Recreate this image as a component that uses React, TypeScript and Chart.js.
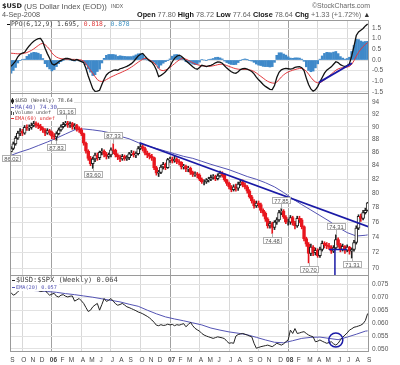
import React, { useEffect, useRef } from 'react';
import { Chart, registerables } from 'chart.js';

Chart.register(...registerables);

// ---------- data ----------
const FIRST_BAR_UTC = Date.UTC(2005, 8, 2); // first weekly bar (Fri 2 Sep 2005)
const WEEK_MS = 7 * 86400000;
const FIRST_OPEN = 86.1;

const CLOSE = [
  86.6, 87.3, 88.2, 89.0, 89.3, 89.0, 89.9, 89.8, 89.9, 90.2,
  90.5, 90.3, 90.1, 89.8, 89.5, 89.0, 89.4, 89.1, 88.5, 88.4,
  88.9, 89.5, 90.0, 90.4, 90.6, 90.3, 90.5, 90.0, 90.2, 89.7,
  89.5, 88.9, 87.4, 86.2, 85.1, 84.3, 85.0, 85.6, 85.2, 86.0,
  86.2, 85.7, 85.4, 85.6, 86.4, 86.3, 85.6, 85.3, 85.0, 85.4,
  85.1, 85.2, 85.8, 85.9, 85.6, 85.8, 86.6, 86.9, 86.6, 85.9,
  85.6, 85.4, 85.2, 83.7, 82.9, 83.0, 83.8, 84.2, 83.7, 84.9,
  85.0, 84.7, 85.0, 84.6, 84.5, 83.8, 83.9, 83.5, 83.6, 83.0,
  82.7, 82.8, 82.6, 82.0, 81.6, 81.6, 81.9, 82.0, 82.3, 82.4,
  82.1, 82.5, 82.9, 82.6, 81.9, 81.4, 80.9, 80.5, 80.9, 80.7,
  81.3, 81.6, 81.2, 80.9, 80.3, 79.5, 78.9, 78.2, 78.6, 78.4,
  77.6, 77.2, 76.4, 75.5, 75.8, 75.3, 76.0, 76.3, 77.3, 77.5,
  76.7, 76.0, 76.0, 76.6, 75.9, 75.5, 76.5, 76.3, 75.4, 73.8,
  73.1, 71.9, 72.7, 72.0, 72.3, 71.6, 72.4, 73.2, 73.0, 72.9,
  72.7, 72.2, 72.6, 73.7, 73.0, 72.4, 72.8, 72.3, 72.7, 72.2,
  72.4, 73.3, 75.2, 76.8, 76.5, 77.3, 77.6, 78.64,
];
const HIGH = [
  86.9, 87.6, 88.5, 89.3, 89.7, 89.6, 90.2, 90.3, 90.3, 90.6,
  90.9, 90.8, 90.6, 90.4, 90.0, 89.7, 89.7, 89.6, 89.3, 88.9,
  89.2, 89.8, 90.3, 90.7, 91.16, 90.9, 90.8, 90.7, 90.5, 90.4,
  90.0, 89.8, 89.0, 87.6, 86.4, 85.4, 85.3, 85.9, 85.9, 86.2,
  86.6, 86.4, 86.0, 85.9, 86.7, 87.33, 86.5, 85.8, 85.6, 85.7,
  85.6, 85.5, 86.0, 86.3, 86.2, 86.1, 86.9, 87.3, 87.1, 86.8,
  86.2, 85.9, 85.7, 85.3, 83.9, 83.3, 84.1, 84.5, 84.4, 85.1,
  85.3, 85.3, 85.4, 85.2, 84.9, 84.6, 84.2, 84.1, 83.9, 83.8,
  83.2, 83.1, 83.0, 82.8, 82.2, 81.9, 82.1, 82.3, 82.6, 82.7,
  82.6, 82.8, 83.2, 83.1, 82.8, 82.0, 81.6, 81.1, 81.2, 81.3,
  81.6, 82.0, 81.9, 81.5, 81.1, 80.5, 79.7, 79.1, 78.9, 78.9,
  78.6, 77.8, 77.4, 76.6, 76.1, 76.0, 76.2, 76.6, 77.6, 77.85,
  77.7, 76.9, 76.4, 76.9, 76.8, 76.1, 76.8, 76.8, 76.5, 75.5,
  74.0, 73.3, 73.1, 72.9, 72.6, 72.5, 72.7, 73.5, 73.4, 73.3,
  73.2, 72.9, 72.9, 74.31, 73.9, 73.2, 73.1, 72.9, 73.0, 72.8,
  72.6, 73.6, 75.5, 77.0, 77.1, 77.6, 77.9, 78.72,
];
const LOW = [
  86.02, 86.4, 87.1, 88.0, 88.6, 88.6, 88.8, 89.4, 89.4, 89.6,
  90.0, 89.9, 89.7, 89.4, 89.1, 88.6, 88.8, 88.7, 88.1, 88.0,
  87.83, 88.7, 89.3, 89.8, 90.1, 89.9, 89.9, 89.6, 89.6, 89.3,
  89.1, 88.6, 87.1, 85.9, 84.8, 84.0, 83.6, 84.6, 84.8, 84.9,
  85.6, 85.3, 85.0, 85.1, 85.3, 85.8, 85.3, 84.9, 84.6, 84.8,
  84.8, 84.8, 84.9, 85.5, 85.3, 85.2, 85.6, 86.4, 86.2, 85.6,
  85.2, 85.0, 84.8, 83.4, 82.6, 82.4, 82.8, 83.5, 83.4, 83.6,
  84.5, 84.4, 84.5, 84.3, 84.1, 83.5, 83.5, 83.1, 83.1, 82.7,
  82.4, 82.4, 82.2, 81.8, 81.4, 81.2, 81.4, 81.6, 81.8, 82.0,
  81.8, 81.9, 82.3, 82.3, 81.7, 81.1, 80.6, 80.2, 80.3, 80.3,
  80.4, 81.1, 80.9, 80.6, 80.0, 79.3, 78.6, 77.9, 78.0, 78.0,
  77.3, 76.8, 76.1, 75.2, 75.2, 74.48, 75.0, 75.7, 76.1, 77.0,
  76.5, 75.8, 75.6, 75.7, 75.6, 75.1, 75.3, 75.9, 75.1, 73.5,
  72.8, 70.7, 71.6, 71.6, 71.7, 71.4, 71.4, 72.2, 72.6, 72.5,
  72.4, 71.9, 72.0, 72.4, 72.7, 72.1, 72.2, 71.9, 72.1, 71.8,
  71.31, 72.2, 73.1, 75.0, 76.1, 76.3, 77.1, 77.5,
];
const PPO = [
  -0.30, -0.18, -0.05, 0.15, 0.27, 0.32, 0.36, 0.52, 0.66, 0.78,
  0.88, 0.95, 1.00, 1.01, 0.85, 0.55, 0.30, 0.08, -0.18, -0.23,
  -0.17, -0.08, -0.02, 0.03, 0.07, 0.08, 0.04, 0.00, -0.02, 0.02,
  -0.03, -0.08, -0.13, -0.40, -0.75, -1.05, -1.35, -1.47, -1.46, -1.42,
  -1.15, -0.90, -0.70, -0.60, -0.54, -0.49, -0.46, -0.48, -0.41, -0.38,
  -0.34, -0.30, -0.24, -0.17, -0.07, 0.06, 0.19, 0.27, 0.31, 0.18,
  0.06, -0.03, -0.10, -0.25, -0.47, -0.78, -0.72, -0.65, -0.55, -0.43,
  -0.30, -0.08, 0.08, 0.18, 0.23, 0.18, 0.08, -0.04, -0.13, -0.22,
  -0.32, -0.40, -0.43, -0.35, -0.25, -0.28, -0.31, -0.28, -0.25, -0.20,
  -0.13, -0.09, -0.10, -0.15, -0.27, -0.38, -0.47, -0.55, -0.60, -0.62,
  -0.55, -0.45, -0.41, -0.39, -0.43, -0.48, -0.54, -0.65, -0.80, -0.93,
  -1.03, -1.15, -1.24, -1.31, -1.38, -1.39, -1.20, -0.82, -0.58, -0.46,
  -0.42, -0.39, -0.41, -0.43, -0.40, -0.35, -0.32, -0.31, -0.36, -0.50,
  -0.85, -1.15, -1.36, -1.46, -1.40, -1.25, -1.02, -0.82, -0.62, -0.48,
  -0.40, -0.32, -0.20, -0.08, -0.12, -0.22, -0.27, -0.31, -0.26, -0.17,
  0.20, 0.65, 1.15, 1.32, 1.40, 1.48, 1.60, 1.695,
];
const SIGNAL = [
  0.32, 0.31, 0.30, 0.29, 0.29, 0.30, 0.32, 0.35, 0.40, 0.45,
  0.52, 0.60, 0.68, 0.75, 0.78, 0.72, 0.62, 0.50, 0.33, 0.22,
  0.14, 0.09, 0.06, 0.05, 0.04, 0.04, 0.04, 0.03, 0.03, 0.02,
  0.01, 0.00, -0.05, -0.18, -0.33, -0.48, -0.62, -0.78, -0.92, -0.99,
  -1.01, -0.98, -0.92, -0.86, -0.80, -0.75, -0.70, -0.65, -0.61, -0.56,
  -0.51, -0.46, -0.40, -0.33, -0.26, -0.18, -0.10, -0.03, 0.04, 0.08,
  0.06, 0.01, -0.06, -0.14, -0.26, -0.40, -0.48, -0.50, -0.47, -0.42,
  -0.35, -0.26, -0.17, -0.08, 0.00, 0.06, 0.07, 0.04, -0.01, -0.07,
  -0.13, -0.18, -0.22, -0.25, -0.27, -0.28, -0.29, -0.30, -0.29, -0.27,
  -0.25, -0.22, -0.20, -0.20, -0.22, -0.26, -0.30, -0.34, -0.38, -0.41,
  -0.43, -0.44, -0.44, -0.44, -0.44, -0.46, -0.49, -0.54, -0.61, -0.69,
  -0.77, -0.85, -0.93, -1.00, -1.05, -1.08, -1.09, -1.04, -0.92, -0.80,
  -0.70, -0.62, -0.56, -0.52, -0.48, -0.45, -0.42, -0.40, -0.40, -0.44,
  -0.53, -0.66, -0.81, -0.94, -1.03, -1.07, -1.06, -1.01, -0.93, -0.84,
  -0.75, -0.66, -0.57, -0.48, -0.42, -0.38, -0.36, -0.35, -0.33, -0.30,
  -0.20, -0.03, 0.18, 0.36, 0.51, 0.63, 0.73, 0.818,
];
const RATIO = [
  0.0718, 0.0708, 0.0712, 0.0722, 0.0728, 0.0735, 0.0742, 0.0746, 0.0742, 0.0738,
  0.0734, 0.0730, 0.0726, 0.0722, 0.0724, 0.0727, 0.0716, 0.0708, 0.0712, 0.0715,
  0.0704, 0.0701, 0.0708, 0.0710, 0.0704, 0.0701, 0.0704, 0.0705, 0.0685, 0.0690,
  0.0695, 0.0686, 0.0676, 0.0660, 0.0645, 0.0650, 0.0663, 0.0670, 0.0676, 0.0650,
  0.0672, 0.0695, 0.0684, 0.0688, 0.0695, 0.0685, 0.0675, 0.0669, 0.0672, 0.0676,
  0.0670, 0.0663, 0.0660, 0.0656, 0.0652, 0.0648, 0.0643, 0.0640, 0.0636, 0.0631,
  0.0626, 0.0620, 0.0612, 0.0603, 0.0592, 0.0590, 0.0594, 0.0591, 0.0592, 0.0596,
  0.0593, 0.0595, 0.0590, 0.0594, 0.0592, 0.0595, 0.0598, 0.0586, 0.0594, 0.0603,
  0.0590, 0.0580, 0.0574, 0.0569, 0.0560, 0.0554, 0.0550, 0.0547, 0.0544, 0.0541,
  0.0544, 0.0547, 0.0545, 0.0543, 0.0540, 0.0530, 0.0522, 0.0524, 0.0522, 0.0550,
  0.0556, 0.0558, 0.0560, 0.0557, 0.0554, 0.0550, 0.0547, 0.0522, 0.0503, 0.0506,
  0.0509, 0.0511, 0.0513, 0.0515, 0.0512, 0.0509, 0.0515, 0.0522, 0.0519, 0.0515,
  0.0520, 0.0528, 0.0535, 0.0573, 0.0560, 0.0579, 0.0560, 0.0562, 0.0565, 0.0567,
  0.0560, 0.0554, 0.0550, 0.0547, 0.0528, 0.0530, 0.0535, 0.0530, 0.0526, 0.0522,
  0.0525, 0.0528, 0.0520, 0.0515, 0.0522, 0.0535, 0.0545, 0.0554, 0.0562, 0.0573,
  0.0578, 0.0584, 0.0586, 0.0589, 0.0592, 0.0598, 0.0610, 0.0637,
];
const AVG_BARS = [
  0, 4, 8, 12, 16, 20, 24, 28, 32, 36, 40, 44, 48, 52, 56, 60, 64, 68, 72, 76,
  80, 84, 88, 92, 96, 100, 104, 108, 112, 116, 120, 124, 128, 132, 136, 140, 144, 148, 152, 156, 157,
];
const MA40 = [
  85.55, 86.06, 86.5, 87.05, 87.6, 88.2, 88.85, 89.5, 89.65, 89.5,
  89.3, 89.0, 88.5, 88.1, 87.5, 87.0, 86.6, 86.2, 85.8, 85.4,
  85.1, 84.65, 84.2, 83.8, 83.4, 82.9, 82.4, 82.0, 81.5, 80.9,
  80.1, 79.2, 78.4, 77.65, 76.9, 76.15, 75.3, 74.6, 74.15, 74.25, 74.30,
];
const EMA20 = [
  0.0727, 0.0727, 0.0727, 0.0725, 0.0722, 0.0719, 0.0714, 0.0710, 0.0705, 0.0700,
  0.0694, 0.0688, 0.0682, 0.0673, 0.0665, 0.0650, 0.0636, 0.0624, 0.0616, 0.0609,
  0.0601, 0.0593, 0.0581, 0.0573, 0.0566, 0.0561, 0.0555, 0.0545, 0.0535, 0.0526,
  0.0524, 0.0532, 0.0541, 0.0545, 0.0546, 0.0541, 0.0536, 0.0546, 0.0557, 0.0569, 0.0570,
];
const PPO_TICKS = [-1.5, -1.0, -0.5, 0, 0.5, 1.0, 1.5];
const PRICE_TICKS = [70, 72, 74, 76, 78, 80, 82, 84, 86, 88, 90, 92, 94];
const RATIO_TICKS = [0.05, 0.055, 0.06, 0.065, 0.07, 0.075];
const LABEL_BARS = [0, 20, 24, 36, 45, 115, 119, 131, 143, 150];
const LABEL_KIND = ['L', 'L', 'H', 'L', 'H', 'L', 'H', 'L', 'H', 'L'];
const PRICE_TREND_BARS = [56.6, 157.6];
const PRICE_TREND_VALUES = [87.48, 75.35];
const PPO_TREND_BARS = [135.6, 150.1];
const PPO_TREND_VALUES = [-1.05, -0.15];
const BASE_BARS = [140, 147.9];
const BASE_VALUES = [72.4, 72.4];
const DROP_BARS = [142.6, 142.6];
const DROP_VALUES = [72.4, 62.4];
const CIRCLE_BARS = [143.0];
const CIRCLE_VALUES = [0.05348];

const MONTH_LETTERS = ['J', 'F', 'M', 'A', 'M', 'J', 'J', 'A', 'S', 'O', 'N', 'D'];
const MONTH_TICKS: { bar: number; month: number; year: number }[] = [];
{
  let prev = -1;
  for (let i = 0; i < CLOSE.length; i++) {
    const d = new Date(FIRST_BAR_UTC + i * WEEK_MS);
    const m = d.getUTCMonth();
    if (m !== prev) {
      MONTH_TICKS.push({ bar: i, month: m, year: d.getUTCFullYear() });
      prev = m;
    }
  }
}

// ---------- helpers ----------
type Seg = [string, string, boolean?];
function drawFitted(ctx: CanvasRenderingContext2D, segs: Seg[], x: number, y: number, width: number, family: string) {
  let w10 = 0;
  for (const [t, , b] of segs) {
    ctx.font = `${b ? 'bold ' : ''}10px ${family}`;
    w10 += ctx.measureText(t).width;
  }
  const size = (10 * width) / w10;
  let cx = x;
  ctx.textBaseline = 'middle';
  ctx.textAlign = 'left';
  for (const [t, c, b] of segs) {
    ctx.font = `${b ? 'bold ' : ''}${size}px ${family}`;
    ctx.fillStyle = c;
    ctx.fillText(t, cx, y);
    cx += ctx.measureText(t).width;
  }
}

const MONO = '"DejaVu Sans Mono", monospace';
const SANS = '"Liberation Sans", Arial, sans-serif';
const VERD = '"DejaVu Sans", Verdana, sans-serif';

const overlay = {
  id: 'overlay',
  beforeDraw(chart: any) {
    const ctx = chart.ctx;
    ctx.save();
    ctx.fillStyle = '#ffffff';
    ctx.fillRect(0, 0, chart.width, chart.height);
    ctx.restore();
  },
  afterDraw(chart: any) {
    const ctx: CanvasRenderingContext2D = chart.ctx;
    const a = chart.chartArea;
    const sx = chart.scales.x;
    const sp = chart.scales.yP;
    const spr = chart.scales.yPrice;
    ctx.save();

    // PPO legend
    ctx.fillStyle = '#111';
    ctx.fillRect(7, 24, 3, 1);
    drawFitted(ctx, [['PPO(6,12,9) 1.695, ', '#444'], ['0.818', '#e03a3a'], [', ', '#444'], ['0.878', '#3b8fbf']], 11, 24.8, 119, MONO);

    // price legend
    ctx.fillStyle = '#ffffff';
    ctx.fillRect(11, 97, 63, 24);
    ctx.fillStyle = '#222';
    ctx.fillRect(12, 98, 1, 6);
    ctx.fillRect(11, 99.5, 3, 3);
    drawFitted(ctx, [['$USD (Weekly) 78.64', '#444']], 15, 101, 58, MONO);
    ctx.fillStyle = '#5454b4';
    ctx.fillRect(11, 107, 3, 1);
    drawFitted(ctx, [['MA(40) 74.30', '#5454b4']], 15, 107.5, 42, MONO);
    ctx.fillStyle = '#555';
    ctx.fillRect(11, 111, 1, 4);
    ctx.fillRect(13, 112, 1, 3);
    drawFitted(ctx, [['Volume undef', '#555']], 15, 113, 36, MONO);
    ctx.fillStyle = '#e03030';
    ctx.fillRect(11, 118, 3, 1);
    drawFitted(ctx, [['EMA(60) undef', '#e03030']], 15, 118.5, 40, MONO);

    // ratio legend
    ctx.fillStyle = '#ffffff';
    ctx.fillRect(11, 277, 108, 7);
    ctx.fillRect(11, 284, 48, 7);
    ctx.fillStyle = '#222';
    ctx.fillRect(12, 280, 3, 1);
    drawFitted(ctx, [['$USD:$SPX (Weekly) 0.064', '#444']], 16, 280.5, 102, MONO);
    ctx.fillStyle = '#5454b4';
    ctx.fillRect(12, 287, 3, 1);
    drawFitted(ctx, [['EMA(20) 0.057', '#5454b4']], 16, 287.5, 41, MONO);

    // price extreme labels
    LABEL_BARS.forEach((b, k) => {
      const hi = LABEL_KIND[k] === 'H';
      const v = hi ? HIGH[b] : LOW[b];
      const txt = v.toFixed(2);
      const px = Math.round(sx.getPixelForValue(b)) + 0.5;
      const py = spr.getPixelForValue(v);
      ctx.font = `5.8px ${SANS}`;
      const bw = Math.round(ctx.measureText(txt).width + 4);
      const bh = 7;
      const by = Math.round(hi ? py - 5 - bh : py + 3);
      ctx.strokeStyle = '#b0b0b0';
      ctx.lineWidth = 1;
      ctx.beginPath();
      ctx.moveTo(px, py);
      ctx.lineTo(px, hi ? by + bh : by);
      ctx.stroke();
      const bx = Math.round(px - bw / 2);
      ctx.fillStyle = '#ffffff';
      ctx.fillRect(bx, by, bw, bh);
      ctx.strokeRect(bx + 0.5, by + 0.5, bw - 1, bh - 1);
      ctx.fillStyle = '#555555';
      ctx.textAlign = 'center';
      ctx.textBaseline = 'middle';
      ctx.fillText(txt, bx + bw / 2, by + bh / 2 + 0.5);
    });

    // panel frames
    ctx.strokeStyle = '#9a9a9a';
    ctx.lineWidth = 1;
    ctx.strokeRect(a.left + 0.5, a.top + 0.5, a.right - a.left - 1, a.bottom - a.top - 1);
    ctx.beginPath();
    ctx.moveTo(a.left, Math.round(sp.bottom) + 0.5);
    ctx.lineTo(a.right, Math.round(sp.bottom) + 0.5);
    ctx.moveTo(a.left, Math.round(spr.bottom) + 0.5);
    ctx.lineTo(a.right, Math.round(spr.bottom) + 0.5);
    ctx.stroke();

    // header
    drawFitted(ctx, [['$USD', '#222', true]], 2, 6.5, 20, VERD);
    drawFitted(ctx, [['(US Dollar Index (EOD))', '#555']], 24, 6.5, 83, SANS);
    drawFitted(ctx, [['INDX', '#555']], 111, 6.5, 12, SANS);
    drawFitted(ctx, [['\u00A9StockCharts.com', '#666']], 312, 6, 58, SANS);
    drawFitted(ctx, [['4-Sep-2008', '#555']], 2, 15, 38, SANS);
    drawFitted(ctx, [
      ['Open ', '#111', true], ['77.80 ', '#666'],
      ['High ', '#111', true], ['78.72 ', '#666'],
      ['Low ', '#111', true], ['77.64 ', '#666'],
      ['Close ', '#111', true], ['78.64 ', '#666'],
      ['Chg ', '#111', true], ['+1.33 (+1.72%) ', '#666'], ['\u25B2', '#333'],
    ], 137, 15, 234, SANS);

    ctx.restore();
  },
};

export default function App() {
  const ref = useRef<HTMLCanvasElement>(null);
  useEffect(() => {
    const bars = CLOSE.map((_, i) => i);
    const open = CLOSE.map((_, i) => (i === 0 ? FIRST_OPEN : CLOSE[i - 1]));
    const up = CLOSE.map((c, i) => c >= open[i]);
    const RED = '#e8161e';
    const tickFont = { family: SANS, size: 6.5 };
    const yCommon = (weight: number) => ({
      position: 'right' as const,
      stack: 'panels',
      stackWeight: weight,
      border: { display: false },
      grid: { color: '#e2e2e2', drawTicks: false, lineWidth: 1 },
      afterFit: (s: any) => { s.width = 31; },
    });

    const chart = new Chart(ref.current as HTMLCanvasElement, {
      type: 'line',
      data: {
        datasets: [
          {
            type: 'bar', yAxisID: 'yP', grouped: false, barThickness: 2, order: 6,
            data: bars.map((i) => ({ x: i, y: PPO[i] - SIGNAL[i] })),
            backgroundColor: '#3f89c9', borderWidth: 0,
          } as any,
          {
            type: 'line', yAxisID: 'yP', order: 2, borderColor: '#111', borderWidth: 1.3, pointRadius: 0, tension: 0,
            data: bars.map((i) => ({ x: i, y: PPO[i] })),
          },
          {
            type: 'line', yAxisID: 'yP', order: 3, borderColor: '#e2393e', borderWidth: 1, pointRadius: 0, tension: 0,
            data: bars.map((i) => ({ x: i, y: SIGNAL[i] })),
          },
          {
            type: 'line', yAxisID: 'yP', order: 1, borderColor: '#1a1aa6', borderWidth: 1.8, pointRadius: 0,
            data: PPO_TREND_BARS.map((b, k) => ({ x: b, y: PPO_TREND_VALUES[k] })),
          },
          {
            type: 'bar', yAxisID: 'yPrice', grouped: false, barThickness: 1, order: 4,
            data: bars.map((i) => ({ x: i, y: [LOW[i], HIGH[i]] })),
            backgroundColor: up.map((u) => (u ? '#222' : RED)), borderWidth: 0,
          } as any,
          {
            type: 'bar', yAxisID: 'yPrice', grouped: false, barThickness: 3, order: 3,
            data: bars.map((i) => ({ x: i, y: [Math.min(open[i], CLOSE[i]), Math.max(open[i], CLOSE[i])] })),
            backgroundColor: up.map((u) => (u ? '#ffffff' : RED)),
            borderColor: up.map((u) => (u ? '#222' : RED)),
            borderWidth: 1, borderSkipped: false,
          } as any,
          {
            type: 'line', yAxisID: 'yPrice', order: 5, borderColor: '#5454b4', borderWidth: 1, pointRadius: 0, tension: 0,
            data: AVG_BARS.map((b, k) => ({ x: b, y: MA40[k] })),
          },
          {
            type: 'line', yAxisID: 'yPrice', order: 1, borderColor: '#1a1aa6', borderWidth: 1.8, pointRadius: 0,
            data: PRICE_TREND_BARS.map((b, k) => ({ x: b, y: PRICE_TREND_VALUES[k] })),
          },
          {
            type: 'line', yAxisID: 'yPrice', order: 1, borderColor: '#1a1aa6', borderWidth: 1.5, pointRadius: 0,
            data: BASE_BARS.map((b, k) => ({ x: b, y: BASE_VALUES[k] })),
          },
          {
            type: 'line', yAxisID: 'yPrice', order: 1, borderColor: '#1a1aa6', borderWidth: 1.5, pointRadius: 0,
            data: DROP_BARS.map((b, k) => ({ x: b, y: DROP_VALUES[k] })),
          },
          {
            type: 'line', yAxisID: 'yR', order: 3, borderColor: '#222', borderWidth: 1, pointRadius: 0, tension: 0,
            data: bars.map((i) => ({ x: i, y: RATIO[i] })),
          },
          {
            type: 'line', yAxisID: 'yR', order: 4, borderColor: '#5454b4', borderWidth: 1, pointRadius: 0, tension: 0,
            data: AVG_BARS.map((b, k) => ({ x: b, y: EMA20[k] })),
          },
          {
            type: 'line', yAxisID: 'yR', order: 1, showLine: false, pointRadius: 7, pointBorderWidth: 1.5,
            pointBorderColor: '#1a1aa6', pointBackgroundColor: 'rgba(0,0,0,0)',
            data: CIRCLE_BARS.map((b, k) => ({ x: b, y: CIRCLE_VALUES[k] })),
          },
        ],
      },
      options: {
        responsive: false,
        animation: false,
        devicePixelRatio: 1,
        events: [],
        layout: { padding: { top: 20, left: 10, right: 0, bottom: 0 } },
        plugins: { legend: { display: false }, tooltip: { enabled: false } },
        scales: {
          x: {
            type: 'linear',
            min: -0.44,
            max: 157.6,
            offset: false,
            border: { display: false },
            grid: {
              offset: false,
              drawTicks: false,
              color: (c: any) => {
                const t = MONTH_TICKS[c.index];
                if (!t) return 'rgba(0,0,0,0)';
                if (t.month === 0) return '#a0a0a0';
                if (t.month % 3 === 0) return '#d8d8d8';
                return 'rgba(0,0,0,0)';
              },
            },
            afterBuildTicks: (s: any) => { s.ticks = MONTH_TICKS.map((t) => ({ value: t.bar })); },
            ticks: {
              autoSkip: false, maxRotation: 0, minRotation: 0, padding: 4, labelOffset: 1.5, color: '#444',
              font: (c: any) => ({ family: SANS, size: 6.5, weight: MONTH_TICKS[c.index] && MONTH_TICKS[c.index].month === 0 ? 'bold' : 'normal' }),
              callback: (_v: any, i: number) => {
                const t = MONTH_TICKS[i];
                if (!t) return '';
                return t.month === 0 ? String(t.year).slice(2) : MONTH_LETTERS[t.month];
              },
            },
            afterFit: (s: any) => { s.height = 13; },
          },
          yP: {
            ...yCommon(73),
            type: 'linear',
            min: -1.549,
            max: 1.878,
            afterBuildTicks: (s: any) => { s.ticks = PPO_TICKS.map((v) => ({ value: v })); },
            ticks: { font: tickFont, color: '#555', padding: 3, autoSkip: false, callback: (v: any) => Number(v).toFixed(1) },
          },
          yPrice: {
            ...yCommon(182),
            type: 'logarithmic',
            min: 69.2,
            max: 95.55,
            afterBuildTicks: (s: any) => { s.ticks = PRICE_TICKS.map((v) => ({ value: v })); },
            ticks: { font: tickFont, color: '#555', padding: 3, autoSkip: false, callback: (v: any) => String(v) },
          },
          yR: {
            ...yCommon(77),
            type: 'linear',
            min: 0.04884,
            max: 0.07859,
            afterBuildTicks: (s: any) => { s.ticks = RATIO_TICKS.map((v) => ({ value: v })); },
            ticks: { font: tickFont, color: '#555', padding: 3, autoSkip: false, callback: (v: any) => Number(v).toFixed(3) },
          },
        } as any,
      },
      plugins: [overlay],
    });
    return () => chart.destroy();
  }, []);
  return (
    <div style={{ position: 'fixed', left: 0, top: 0, width: 400, height: 365, background: '#fff' }}>
      <canvas ref={ref} width={400} height={365} style={{ display: 'block', width: 400, height: 365 }} />
    </div>
  );
}
